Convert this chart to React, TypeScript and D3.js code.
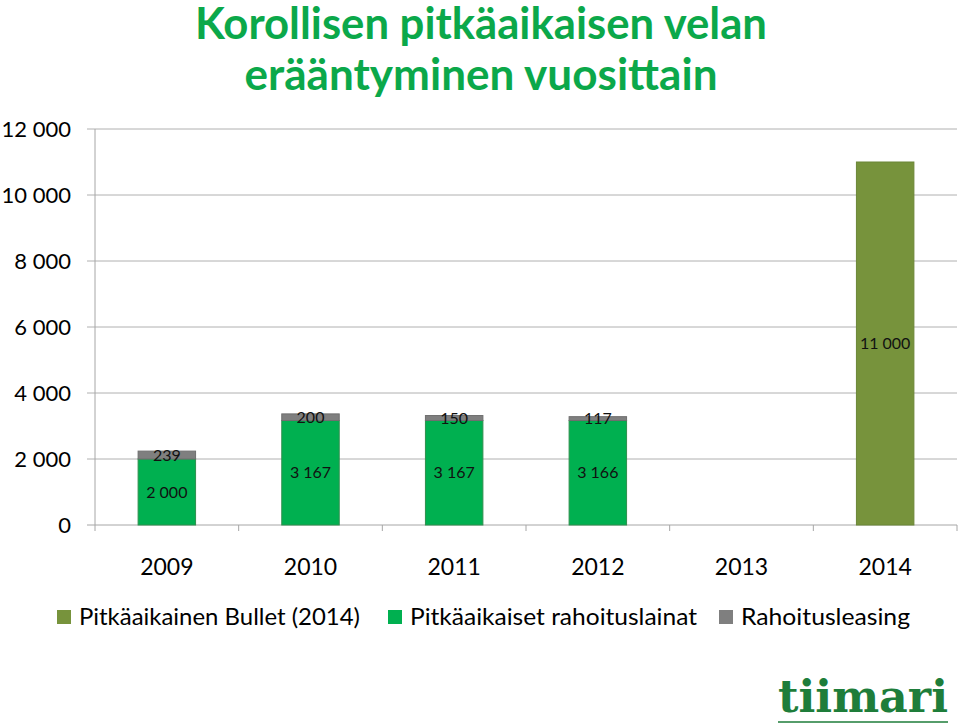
import React from 'react';
import * as d3 from 'd3';

const years = ['2009', '2010', '2011', '2012', '2013', '2014'];
const bullet = [0, 0, 0, 0, 0, 11000];
const loans = [2000, 3167, 3167, 3166, 0, 0];
const leasing = [239, 200, 150, 117, 0, 0];
const seriesNames = ['Pitkäaikainen Bullet (2014)', 'Pitkäaikaiset rahoituslainat', 'Rahoitusleasing'];
const seriesColors = ['#77933C', '#00B050', '#7F7F7F'];
const seriesStroke = ['#6b8636', '#2f8f4e', '#6f6f6f'];
const yTicks = [0, 2000, 4000, 6000, 8000, 10000, 12000];
const titleLines = ['Korollisen pitkäaikaisen velan', 'erääntyminen vuosittain'];

const W = 959, H = 728;
const left = 95, right = 957, top = 129, bottom = 525;
const FONT = 'Lato, "Open Sans", sans-serif';

const locale = d3.formatLocale({ decimal: ',', thousands: '\u00a0', grouping: [3], currency: ['', '€'] });
const fmt = locale.format(',d');

export default function App() {
  const x = d3.scaleBand().domain(years).range([left, right]).paddingInner(0.6).paddingOuter(0.3);
  const xb = d3.scaleBand().domain(years).range([left, right]);
  const y = d3.scaleLinear().domain([0, 12000]).range([bottom, top]);

  const rows = years.map((yr, i) => ({ yr, b: bullet[i], l: loans[i], s: leasing[i] }));
  const stack = d3.stack<any>().keys(['b', 'l', 's'])(rows);

  const titleLen = [572, 473];
  const legendX = [57, 388, 719];
  const legendLen = [281, 287, 169];

  return (
    <svg width={W} height={H} style={{ position: 'absolute', left: 0, top: 0, background: '#fff' }} fontFamily={FONT}>
      {titleLines.map((t, i) => (
        <text key={i} x={481} y={39 + i * 51} textAnchor="middle" fontSize={43} fontWeight={700} fill="#0BA84A" fontFamily={FONT} textLength={titleLen[i]} lengthAdjust="spacingAndGlyphs">{t}</text>
      ))}
      {yTicks.map(t => (
        <g key={t}>
          <line x1={87} x2={right} y1={y(t)} y2={y(t)} stroke={t === 0 ? '#a6a6a6' : '#b0b0b0'} strokeWidth={1} />
          <text x={71} y={y(t)} dy="0.35em" textAnchor="end" fontSize={22} fill="#000">{fmt(t)}</text>
        </g>
      ))}
      <line x1={left} x2={left} y1={top} y2={bottom + 6} stroke="#a6a6a6" />
      {years.map(yr => (
        <line key={yr} x1={(xb(yr) as number) + xb.bandwidth()} x2={(xb(yr) as number) + xb.bandwidth()} y1={bottom} y2={bottom + 6} stroke="#a6a6a6" />
      ))}
      {stack.map((s, si) => (
        <g key={si}>
          {s.map((d, i) => {
            const v = d[1] - d[0];
            if (v <= 0) return null;
            const bx = x(years[i]) as number;
            return (
              <g key={i}>
                <rect x={bx} y={y(d[1])} width={x.bandwidth()} height={y(d[0]) - y(d[1])} fill={seriesColors[si]} stroke={seriesStroke[si]} strokeWidth={1} />
                <text x={bx + x.bandwidth() / 2} y={(y(d[0]) + y(d[1])) / 2} dy="0.35em" textAnchor="middle" fontSize={16} fill="#111">{fmt(v)}</text>
              </g>
            );
          })}
        </g>
      ))}
      {years.map(yr => (
        <text key={yr} x={(xb(yr) as number) + xb.bandwidth() / 2} y={567} dy="0.35em" textAnchor="middle" fontSize={23} fill="#000">{yr}</text>
      ))}
      {seriesNames.map((n, i) => (
        <g key={n}>
          <rect x={legendX[i]} y={610} width={14} height={14} fill={seriesColors[i]} />
          <text x={legendX[i] + 22} y={617} dy="0.35em" fontSize={24} fill="#000" textLength={legendLen[i]} lengthAdjust="spacingAndGlyphs">{n}</text>
        </g>
      ))}
      <text x={863} y={712} textAnchor="middle" fontSize={44} fontWeight={700} fill="#1E7D3A" fontFamily='"DejaVu Serif", "Liberation Serif", serif' textLength={170} lengthAdjust="spacingAndGlyphs">tiimari</text>
      <line x1={778} x2={948} y1={722} y2={722} stroke="#1E7D3A" strokeWidth={1.5} />
    </svg>
  );
}
